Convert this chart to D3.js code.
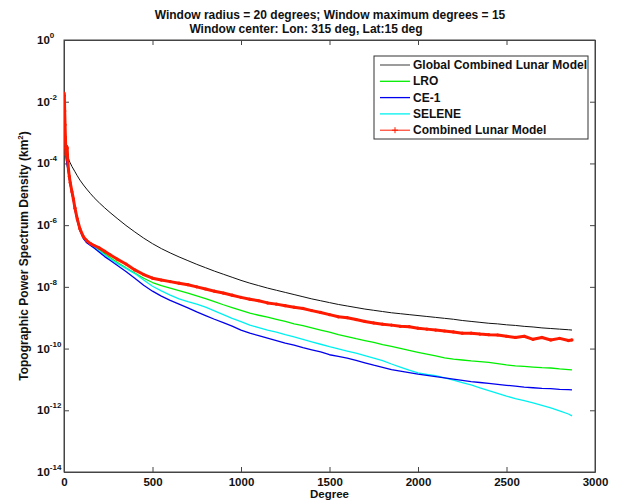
<!DOCTYPE html>
<html><head><meta charset="utf-8">
<script src="https://cdn.jsdelivr.net/npm/d3@7"></script>
<style>
body{margin:0;background:#fff}
svg{display:block}
text{font-family:"Liberation Sans",Arial,sans-serif;font-weight:bold;fill:#111}
</style>
</head><body>
<svg id="chart" width="618" height="502"></svg>
<script>
// ---- data (log10 of power spectrum density, km^2) ----
const degrees=[0,2,4,6,8,10,12,15,18,21,25,30,35,45,53,62,75,90,110,128,150,170,200,230,260,300,350,400,450,500,550,600,650,700,750,800,850,900,950,1000,1050,1100,1150,1200,1250,1300,1350,1400,1450,1500,1550,1600,1650,1700,1750,1800,1850,1900,1950,2000,2050,2100,2150,2200,2250,2300,2350,2400,2450,2500,2550,2600,2650,2700,2750,2800,2850,2870];
const globalCombined=[-1.9,-2.4,-2.85,-3.1,-3.3,-3.45,-3.55,-3.65,-3.73,-3.79,-3.85,-3.92,-3.98,-4.10,-4.18,-4.27,-4.40,-4.54,-4.70,-4.83,-4.98,-5.11,-5.28,-5.44,-5.59,-5.78,-6.01,-6.22,-6.42,-6.60,-6.76,-6.90,-7.03,-7.15,-7.27,-7.38,-7.49,-7.59,-7.69,-7.79,-7.88,-7.96,-8.04,-8.11,-8.18,-8.25,-8.32,-8.39,-8.45,-8.51,-8.57,-8.62,-8.67,-8.72,-8.76,-8.80,-8.84,-8.87,-8.90,-8.93,-8.96,-8.99,-9.02,-9.05,-9.09,-9.12,-9.15,-9.18,-9.20,-9.23,-9.25,-9.28,-9.30,-9.33,-9.35,-9.37,-9.39,-9.40];
const lro=[-1.75,-1.9,-2.4,-2.85,-3.25,-3.55,-3.75,-3.9,-4.0,-4.1,-4.25,-4.45,-4.65,-4.95,-5.17,-5.47,-5.82,-6.14,-6.40,-6.52,-6.62,-6.70,-6.80,-6.93,-7.05,-7.20,-7.38,-7.55,-7.72,-7.86,-7.96,-8.04,-8.12,-8.20,-8.29,-8.38,-8.48,-8.58,-8.67,-8.76,-8.85,-8.92,-8.98,-9.05,-9.12,-9.20,-9.26,-9.33,-9.40,-9.47,-9.55,-9.61,-9.68,-9.74,-9.80,-9.87,-9.93,-9.99,-10.06,-10.12,-10.18,-10.24,-10.30,-10.34,-10.37,-10.40,-10.42,-10.45,-10.49,-10.53,-10.56,-10.58,-10.60,-10.62,-10.63,-10.66,-10.68,-10.69];
const ce1=[-1.8,-2.0,-2.5,-2.95,-3.35,-3.62,-3.82,-3.97,-4.07,-4.17,-4.3,-4.5,-4.7,-5.0,-5.22,-5.52,-5.87,-6.18,-6.44,-6.57,-6.66,-6.74,-6.88,-7.02,-7.14,-7.30,-7.50,-7.72,-7.95,-8.14,-8.30,-8.44,-8.56,-8.68,-8.81,-8.93,-9.05,-9.16,-9.27,-9.40,-9.50,-9.58,-9.66,-9.74,-9.82,-9.89,-9.97,-10.04,-10.11,-10.20,-10.25,-10.31,-10.38,-10.46,-10.54,-10.61,-10.68,-10.73,-10.78,-10.83,-10.87,-10.91,-10.95,-10.99,-11.03,-11.07,-11.10,-11.13,-11.16,-11.19,-11.22,-11.25,-11.27,-11.29,-11.30,-11.32,-11.33,-11.34];
const selene=[-1.78,-1.95,-2.45,-2.9,-3.3,-3.6,-3.8,-3.95,-4.05,-4.15,-4.28,-4.48,-4.68,-4.97,-5.2,-5.5,-5.85,-6.16,-6.42,-6.55,-6.65,-6.73,-6.84,-6.97,-7.09,-7.24,-7.40,-7.57,-7.78,-7.98,-8.13,-8.27,-8.39,-8.48,-8.56,-8.66,-8.78,-8.90,-9.02,-9.13,-9.24,-9.32,-9.40,-9.47,-9.55,-9.62,-9.70,-9.78,-9.86,-9.94,-10.01,-10.08,-10.15,-10.23,-10.31,-10.39,-10.50,-10.60,-10.70,-10.79,-10.84,-10.88,-10.95,-11.02,-11.10,-11.18,-11.27,-11.36,-11.45,-11.54,-11.62,-11.69,-11.76,-11.84,-11.92,-12.02,-12.12,-12.18];
const combined=[-1.72,-1.80,-2.30,-2.75,-3.15,-3.50,-3.72,-3.45,-3.50,-3.88,-4.18,-4.42,-4.62,-4.92,-5.15,-5.45,-5.80,-6.12,-6.38,-6.50,-6.60,-6.66,-6.74,-6.85,-6.96,-7.10,-7.26,-7.45,-7.60,-7.72,-7.78,-7.83,-7.88,-7.93,-8.00,-8.07,-8.14,-8.20,-8.27,-8.34,-8.40,-8.45,-8.52,-8.56,-8.61,-8.66,-8.70,-8.77,-8.83,-8.90,-8.97,-9.00,-9.06,-9.12,-9.17,-9.21,-9.24,-9.28,-9.29,-9.34,-9.37,-9.40,-9.43,-9.46,-9.50,-9.50,-9.53,-9.55,-9.56,-9.60,-9.64,-9.60,-9.70,-9.64,-9.72,-9.67,-9.74,-9.72];
const seriesNames=["Global Combined Lunar Model","LRO","CE-1","SELENE","Combined Lunar Model"];
const seriesColors=["#111111","#00ee00","#0000ee","#00f0f0","#ff1a00"];
const xTicks=[0,500,1000,1500,2000,2500,3000];
const yTickExps=[0,-2,-4,-6,-8,-10,-12,-14];
const titleLines=["Window radius = 20 degrees; Window maximum degrees = 15","Window center: Lon: 315 deg, Lat:15 deg"];

// ---- layout ----
const L=64,R=595,T=40,B=472;
const svg=d3.select("#chart");
const x=d3.scaleLinear().domain([0,3000]).range([L,R]);
const y=d3.scaleLog().domain([1e-14,1]).range([B,T]);
const yTicks=yTickExps.map(e=>Math.pow(10,e));

// plot frame
svg.append("rect").attr("x",L).attr("y",T).attr("width",R-L).attr("height",B-T)
  .attr("fill","#fff").attr("stroke","#444").attr("stroke-width",1);

// axes with inward ticks
const axStyle=g=>{g.select(".domain").attr("stroke","#444");g.selectAll(".tick line").attr("stroke","#444");};
svg.append("g").attr("transform",`translate(0,${B})`)
  .call(d3.axisBottom(x).tickValues(xTicks).tickSizeInner(-5).tickSizeOuter(0).tickPadding(6).tickFormat(d3.format("d")))
  .call(axStyle)
  .call(g=>g.selectAll("text").attr("font-size",11.5).attr("font-family",null).attr("fill","#111"));
svg.append("g").attr("transform",`translate(0,${T})`)
  .call(d3.axisTop(x).tickValues(xTicks).tickSizeInner(-5).tickSizeOuter(0).tickFormat(""))
  .call(axStyle);
svg.append("g").attr("transform",`translate(${L},0)`)
  .call(d3.axisLeft(y).tickValues(yTicks).tickSizeInner(-5).tickSizeOuter(0).tickFormat(""))
  .call(axStyle);
svg.append("g").attr("transform",`translate(${R},0)`)
  .call(d3.axisRight(y).tickValues(yTicks).tickSizeInner(-5).tickSizeOuter(0).tickFormat(""))
  .call(axStyle);
svg.selectAll(".domain").attr("fill","none");

// y tick labels 10^n
yTickExps.forEach(e=>{
  const t=svg.append("text").attr("x",37).attr("y",y(Math.pow(10,e))+4).attr("font-size",11.5);
  t.append("tspan").text("10");
  t.append("tspan").attr("dy",-6).attr("font-size",8).text(String(e));
});

// series lines
const line=d3.line().x((d,i)=>x(degrees[i])).y(d=>y(Math.pow(10,d)));
const data=[globalCombined,lro,ce1,selene,combined];
const widths=[1,1.3,1.3,1.3,3];
const order=[0,1,3,2,4];
svg.append("clipPath").attr("id","clip").append("rect").attr("x",L).attr("y",T).attr("width",R-L).attr("height",B-T);
const plot=svg.append("g").attr("clip-path","url(#clip)");
order.forEach(k=>{
  plot.append("path").datum(data[k]).attr("d",line).attr("fill","none")
    .attr("stroke",seriesColors[k]).attr("stroke-width",widths[k]).attr("stroke-linejoin","round");
});
plot.selectAll("circle.m").data(combined).enter().append("circle").attr("class","m")
  .attr("cx",(d,i)=>x(degrees[i])).attr("cy",d=>y(Math.pow(10,d))).attr("r",1.6).attr("fill","#ff1a00");

// titles
svg.append("text").attr("x",330).attr("y",19).attr("text-anchor","middle").attr("font-size",12).text(titleLines[0]);
svg.append("text").attr("x",306).attr("y",33).attr("text-anchor","middle").attr("font-size",12).text(titleLines[1]);

// axis labels
svg.append("text").attr("x",(L+R)/2).attr("y",498).attr("text-anchor","middle").attr("font-size",11.5).text("Degree");
const yl=svg.append("text").attr("transform",`translate(28,${(T+B)/2}) rotate(-90)`).attr("text-anchor","middle").attr("font-size",12);
yl.append("tspan").text("Topographic Power Spectrum Density (km");
yl.append("tspan").attr("dy",-5).attr("font-size",8).text("2");
yl.append("tspan").attr("dy",5).text(")");

// legend
const lg=svg.append("g");
lg.append("rect").attr("x",374).attr("y",56).attr("width",214).attr("height",83).attr("fill","#fff").attr("stroke","#333").attr("stroke-width",1);
seriesNames.forEach((n,i)=>{
  const yy=65+i*16.3;
  lg.append("line").attr("x1",380).attr("x2",410).attr("y1",yy).attr("y2",yy)
    .attr("stroke",i===0?"#666":seriesColors[i]).attr("stroke-width",i===4?1:1.3);
  if(i===4){
    lg.append("path").attr("d",`M392,${yy}h6M395,${yy-3}v6`).attr("stroke",seriesColors[4]).attr("stroke-width",1);
  }
  lg.append("text").attr("x",413).attr("y",yy+4).attr("font-size",12).text(n);
});
</script>
</body></html>
